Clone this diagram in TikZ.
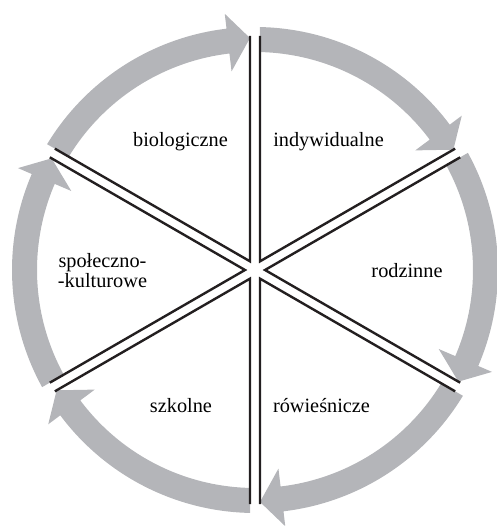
\documentclass[tikz,border=0pt]{standalone}
\usepackage{fontspec}
\setmainfont{Liberation Serif}
\usetikzlibrary{calc}
\definecolor{bandgray}{RGB}{180,181,185}
\definecolor{linek}{RGB}{35,31,32}
\begin{document}
\begin{tikzpicture}[x=1pt,y=1pt,
  band/.style={fill=bandgray, draw=none},
  spoke/.style={draw=linek, line width=2.4pt, line join=miter},
  lbl/.style={font=\fontsize{20.3}{17.3}\selectfont, inner sep=0pt, anchor=base, text=black}]
\useasboundingbox (-255,-256) rectangle (241,270);
\foreach \a in {150,90,30,-30,-90,-150}{
  \pgfmathsetmacro{\e}{\a-60}
  \pgfmathsetmacro{\so}{\a-asin(5/243)}
  \pgfmathsetmacro{\si}{\a-asin(5/218)}
  \pgfmathsetmacro{\tip}{\e+asin(5/232)}
  \pgfmathsetmacro{\b}{\tip+5.5}
  \fill[band] (\so:243) arc[start angle=\so, end angle=\b, radius=243]
     -- (\b:258) -- (\tip:232) -- (\b:200) -- (\b:218)
     arc[start angle=\b, end angle=\si, radius=218] -- cycle;
}
\foreach \a in {150,90,30,-30,-90,-150}{
  \begin{scope}[rotate={\a-30}]
    \draw[spoke] ($(30:234)+(-60:5)$) -- (10,0) -- ($(-30:234)+(60:5)$);
  \end{scope}
}
\node[lbl] (bio) at (-74.5,123) {biologiczne};
\node[lbl] (ind) at (73.5,123) {indywidualne};
\node[lbl] (rod) at (152,-8) {rodzinne};
\node[lbl, anchor=center, align=center] (spo) at (-152.5,-0.5) {społeczno-\\-kulturowe};
\node[lbl] (szk) at (-74,-142) {szkolne};
\node[lbl] (row) at (66.5,-142) {rówieśnicze};
\end{tikzpicture}
\end{document}
